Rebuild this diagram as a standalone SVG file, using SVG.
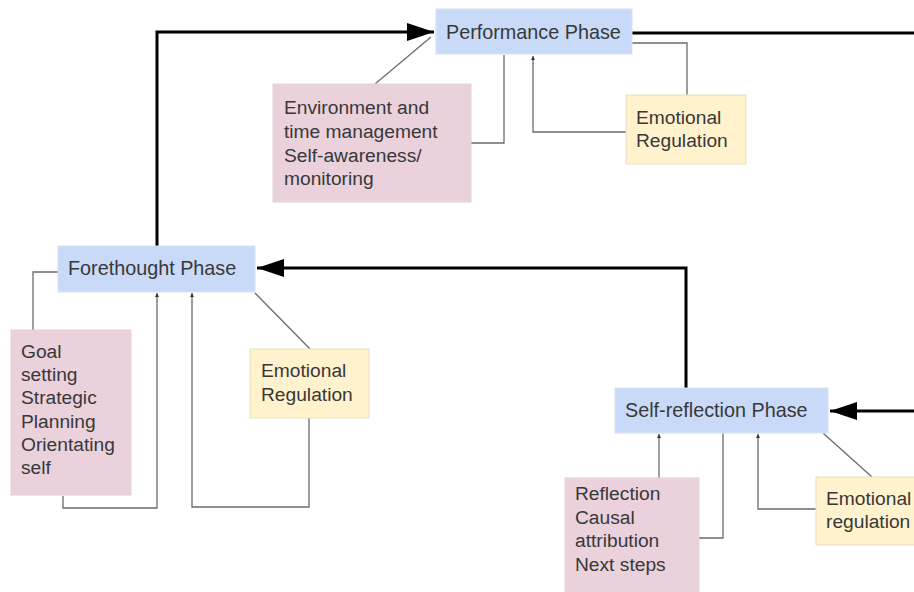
<svg xmlns="http://www.w3.org/2000/svg" width="914" height="592" viewBox="0 0 914 592">
<style>
text{font-family:"Liberation Sans",Arial,sans-serif;font-size:19.2px;fill:#383838}
text.title{font-size:19.8px}
.phase{fill:#c9daf8;stroke:#d5e0f3;stroke-width:1}
.pink{fill:#ead1dc;stroke:#e0d4da;stroke-width:1}
.yellow{fill:#fff2cc;stroke:#e8dfc4;stroke-width:1}
.thick{fill:none;stroke:#000;stroke-width:3}
.thin{fill:none;stroke:#6b6b6b;stroke-width:1.3}
</style>
<defs>
<marker id="big" viewBox="0 0 15 10" refX="15" refY="5" markerWidth="9" markerHeight="6" markerUnits="strokeWidth" orient="auto">
<path d="M0,0 L15,5 L0,10 z" fill="#000"/>
</marker>
<marker id="small" viewBox="0 0 10 10" refX="10" refY="5" markerWidth="3" markerHeight="3" markerUnits="strokeWidth" orient="auto">
<path d="M0,0 L10,5 L0,10 z" fill="#333"/>
</marker>
</defs>
<rect width="914" height="592" fill="#ffffff"/>
<g id="connectors">
<polyline class="thick" points="157,262 157,32 434,32" marker-end="url(#big)"/>
<polyline class="thick" points="632,33 914,33"/>
<polyline class="thick" points="686,388 686,268 257,268" marker-end="url(#big)"/>
<polyline class="thick" points="914,411 830,411" marker-end="url(#big)"/>
<line class="thin" x1="375" y1="84" x2="431" y2="37"/>
<polyline class="thin" points="471,143 504,143 504,55"/>
<polyline class="thin" points="626,132 533,132 533,56" marker-end="url(#small)"/>
<polyline class="thin" points="632,43 687,43 687,95"/>
<polyline class="thin" points="58,272 33,272 33,330"/>
<polyline class="thin" points="63,496 63,508 157,508 157,293" marker-end="url(#small)"/>
<polyline class="thin" points="309,418 309,507 192,507 192,293" marker-end="url(#small)"/>
<line class="thin" x1="255" y1="293" x2="310" y2="349"/>
<polyline class="thin" points="659,478 659,434" marker-end="url(#small)"/>
<polyline class="thin" points="699,538 723,538 723,433"/>
<polyline class="thin" points="816,509 758,509 758,434" marker-end="url(#small)"/>
<line class="thin" x1="823" y1="433" x2="872" y2="477"/>
</g>
<g id="performance">
<rect class="phase" x="436" y="9" width="196" height="45"/>
<text class="title" x="446" y="39">Performance Phase</text>
</g>
<g id="performance-strategies">
<rect class="pink" x="273" y="84" width="198" height="118"/>
<text x="284" y="114">Environment and</text>
<text x="284" y="138">time management</text>
<text x="284" y="162">Self-awareness/</text>
<text x="284" y="185">monitoring</text>
</g>
<g id="performance-emotion">
<rect class="yellow" x="626" y="95" width="120" height="69"/>
<text x="636" y="124">Emotional</text>
<text x="636" y="147">Regulation</text>
</g>
<g id="forethought">
<rect class="phase" x="58" y="246" width="197" height="46"/>
<text class="title" x="68" y="275">Forethought Phase</text>
</g>
<g id="forethought-strategies">
<rect class="pink" x="11" y="330" width="120" height="165"/>
<text x="21" y="358">Goal</text>
<text x="21" y="381">setting</text>
<text x="21" y="404">Strategic</text>
<text x="21" y="428">Planning</text>
<text x="21" y="451">Orientating</text>
<text x="21" y="474">self</text>
</g>
<g id="forethought-emotion">
<rect class="yellow" x="250" y="349" width="119" height="69"/>
<text x="261" y="377">Emotional</text>
<text x="261" y="401">Regulation</text>
</g>
<g id="self-reflection">
<rect class="phase" x="615" y="388" width="213" height="45"/>
<text class="title" x="625" y="417">Self-reflection Phase</text>
</g>
<g id="reflection-strategies">
<rect class="pink" x="565" y="478" width="134" height="120"/>
<text x="575" y="500">Reflection</text>
<text x="575" y="524">Causal</text>
<text x="575" y="547">attribution</text>
<text x="575" y="571">Next steps</text>
</g>
<g id="reflection-emotion">
<rect class="yellow" x="816" y="477" width="110" height="68"/>
<text x="826" y="505">Emotional</text>
<text x="826" y="528">regulation</text>
</g>
</svg>
